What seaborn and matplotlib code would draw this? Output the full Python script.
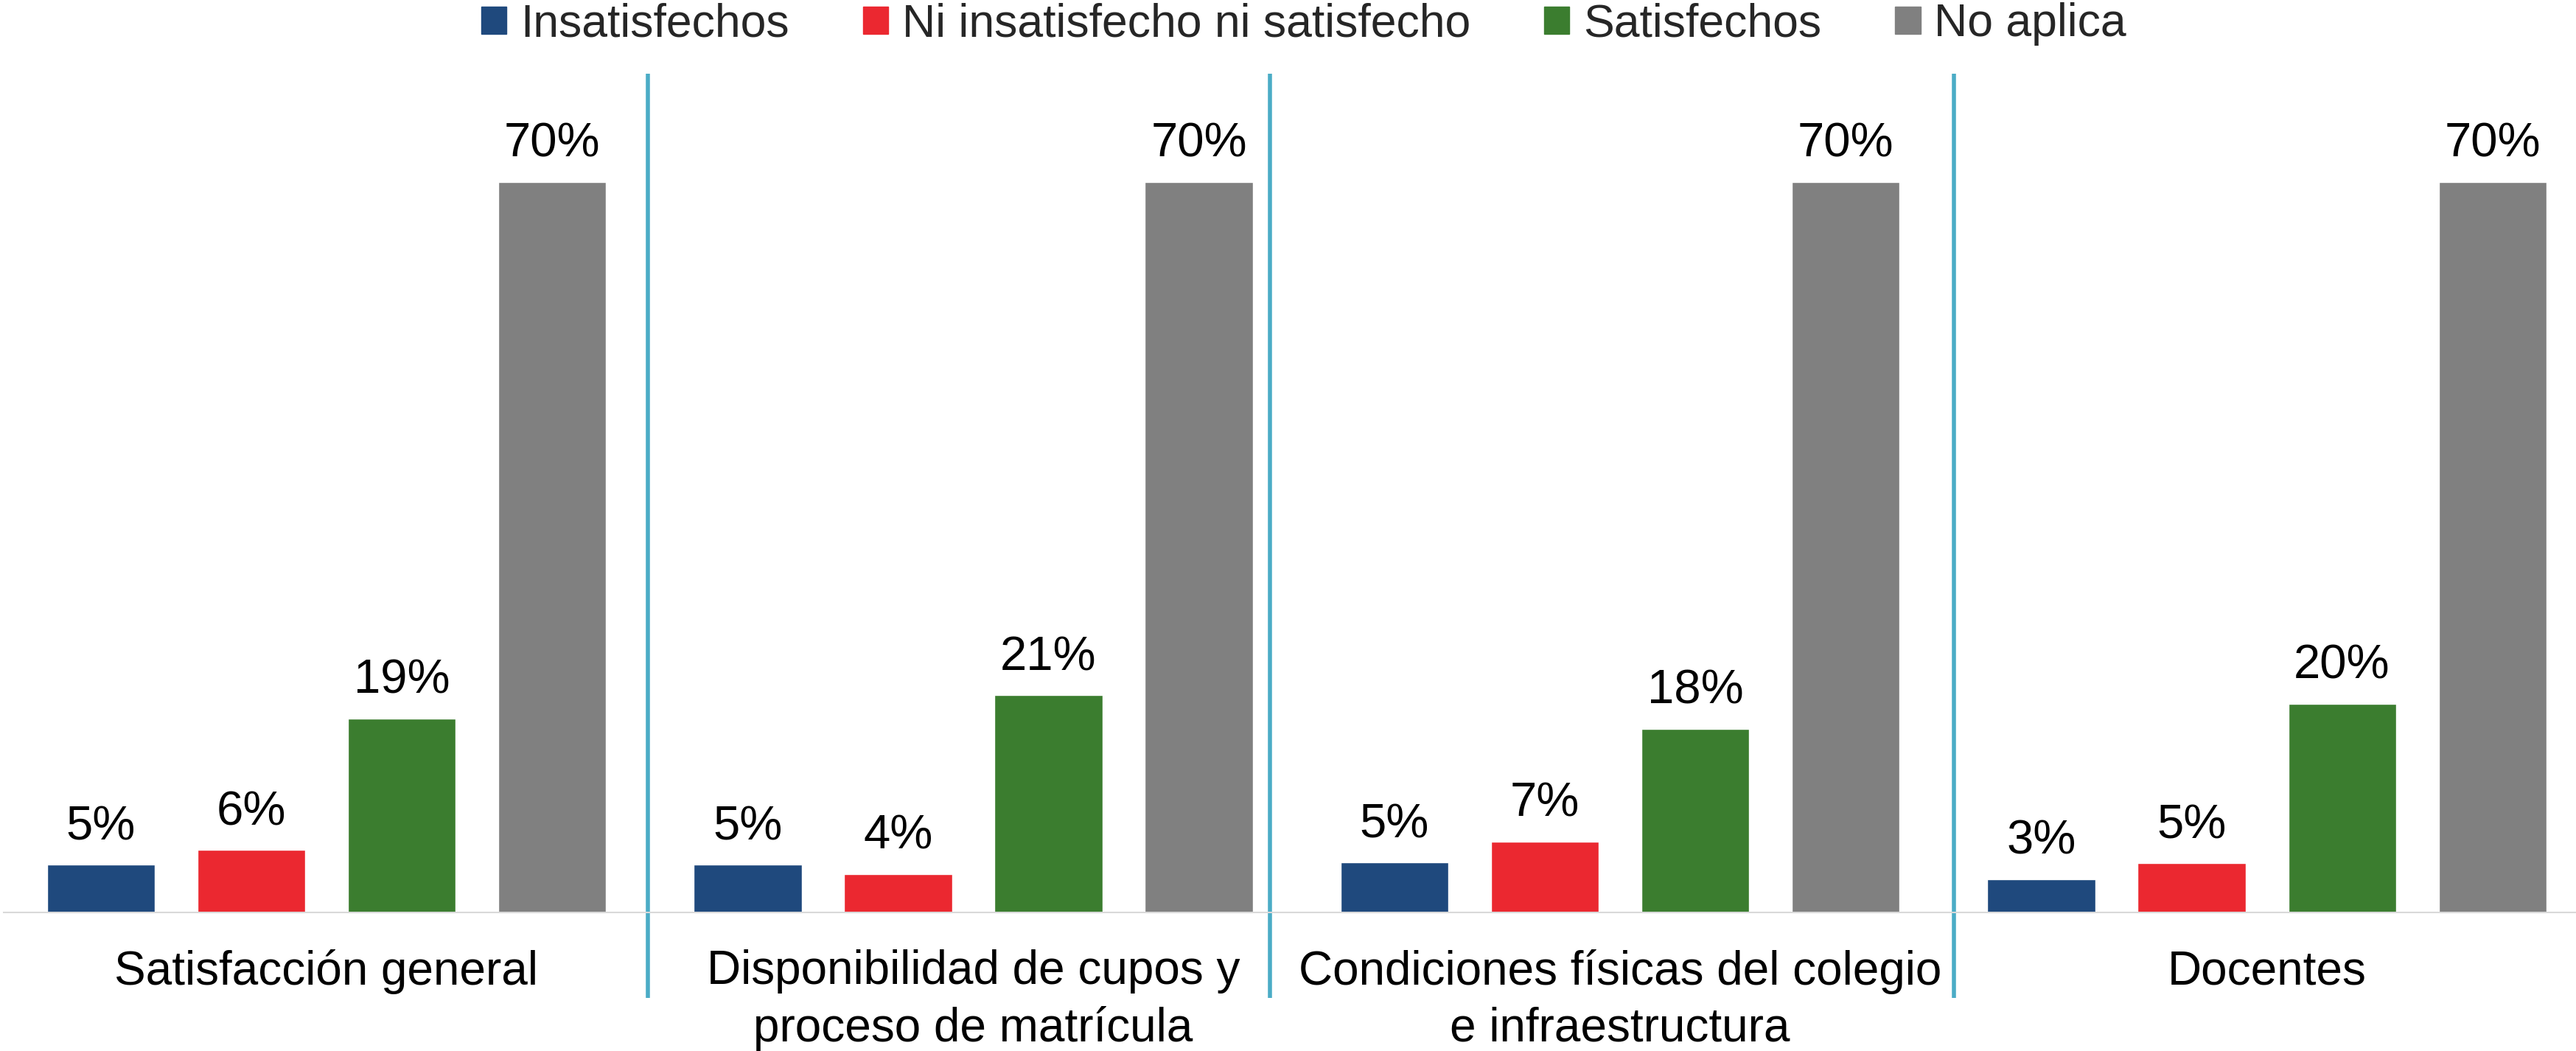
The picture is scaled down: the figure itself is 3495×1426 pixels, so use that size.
import matplotlib
matplotlib.use("Agg")
import matplotlib.pyplot as plt
import matplotlib.transforms as mtransforms
from matplotlib.patches import Rectangle
import seaborn as sns
import pandas as pd

categorias = [
    "Satisfacción general",
    "Disponibilidad de cupos y\nproceso de matrícula",
    "Condiciones físicas del colegio\ne infraestructura",
    "Docentes",
]
series = ["Insatisfechos", "Ni insatisfecho ni satisfecho", "Satisfechos", "No aplica"]
insatisfechos = [4.6, 4.6, 4.8, 3.2]
ni_ni = [6.0, 3.7, 6.8, 4.7]
satisfechos = [18.6, 20.8, 17.6, 20.0]
no_aplica = [70.0, 70.0, 70.0, 70.0]
colores = ["#1F497D", "#EB2830", "#3B7D2F", "#808080"]
separadores = [0.497, 1.459, 2.516]

valores = [insatisfechos, ni_ni, satisfechos, no_aplica]
rows = []
for s, vals in zip(series, valores):
    for c, v in zip(categorias, vals):
        rows.append({"categoria": c, "serie": s, "valor": v})
df = pd.DataFrame(rows)

sns.set_theme(style="white")
plt.rcParams["font.family"] = ["Liberation Sans", "DejaVu Sans"]

W, H = 3495, 1426
fig = plt.figure(figsize=(W / 100, H / 100), dpi=100)
ax_left, ax_right = 5, 3495
ax_bottom, ax_top = 1238, 105
ax = fig.add_axes([ax_left / W, 1 - ax_bottom / H, (ax_right - ax_left) / W, (ax_bottom - ax_top) / H])

sns.barplot(data=df, x="categoria", y="valor", hue="serie", palette=colores,
            order=categorias, hue_order=series, width=0.93, gap=0.284,
            ax=ax, legend=False, saturation=1, errorbar=None)

for cont in ax.containers:
    ax.bar_label(cont, labels=[f"{b.get_height():.0f}%" for b in cont],
                 padding=15, fontsize=47, color="black")

ax.set_ylim(0, 80)
ax.set_xlim(-0.4991, 3.478)
ax.set_xlabel("")
ax.set_ylabel("")
ax.set_yticks([])
ax.tick_params(axis="x", length=0, pad=36, labelsize=46, colors="black")
for lab in ax.get_xticklabels():
    lab.set_linespacing(1.35)
    lab.set_multialignment("center")
for sp in ["left", "right", "top"]:
    ax.spines[sp].set_visible(False)
ax.spines["bottom"].set_color("#D9D9D9")
ax.spines["bottom"].set_linewidth(1.5)

trans = mtransforms.blended_transform_factory(ax.transData, ax.transAxes)
y_low = -(1354 - ax_bottom) / (ax_bottom - ax_top)
y_high = (ax_bottom - 100) / (ax_bottom - ax_top)
for xs in separadores:
    ax.plot([xs, xs], [y_low, y_high], transform=trans, color="#4BACC6",
            lw=4, clip_on=False, solid_capstyle="butt")

handles = [Rectangle((0, 0), 1, 1, color=c) for c in colores]
fig.legend(handles, series, loc="center", bbox_to_anchor=(1769 / W, 1 - 33 / H),
           ncol=4, frameon=False, fontsize=45, handlelength=0.55, handleheight=0.55,
           handletextpad=0.3, columnspacing=1.6, borderaxespad=0, borderpad=0)

fig.savefig("out.png", dpi=100)
